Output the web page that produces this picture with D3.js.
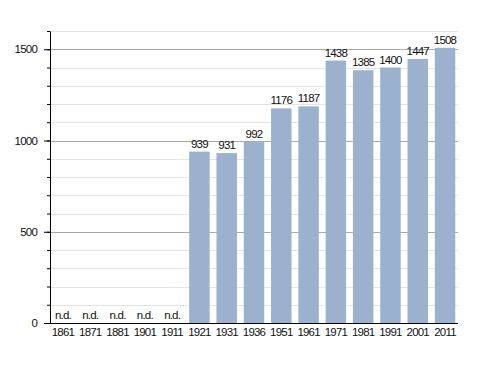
<!DOCTYPE html>
<html>
<head>
<meta charset="utf-8">
<script src="https://cdn.jsdelivr.net/npm/d3@7"></script>
<style>
  body { margin: 0; background: #fff; }
  text { font-family: "Liberation Sans", Arial, sans-serif; letter-spacing: -0.8px; }
</style>
</head>
<body>
<svg id="chart" width="488" height="373"></svg>
<script>
// Data
const years = ['1861', '1871', '1881', '1901', '1911', '1921', '1931', '1936', '1951', '1961', '1971', '1981', '1991', '2001', '2011'];
const population = [null, null, null, null, null, 939, 931, 992, 1176, 1187, 1438, 1385, 1400, 1447, 1508];
const majorTicks = [0, 500, 1000, 1500];

const width = 488, height = 373;
const margins = { top: 31, right: 30, bottom: 50, left: 50 };

const translate = (x, y) => `translate(${x}, ${y})`;

const svg = d3.select('#chart');

const x = d3.scaleBand()
    .domain(years)
    .range([margins.left, width - margins.right])
    .paddingInner(0.25)
    .paddingOuter(0.1);

const y = d3.scaleLinear()
    .domain([0, 1600])
    .range([height - margins.bottom, margins.top]);

// Minor grid every 100
svg.append('g')
    .selectAll('line')
    .data(d3.range(100, 1601, 100).filter(v => v % 500 !== 0))
    .join('line')
    .attr('x1', margins.left)
    .attr('x2', width - margins.right)
    .attr('y1', d => Math.round(y(d)) + 0.5)
    .attr('y2', d => Math.round(y(d)) + 0.5)
    .attr('stroke', '#e4e4e4');

// Major grid
svg.append('g')
    .selectAll('line')
    .data(majorTicks.slice(1))
    .join('line')
    .attr('x1', margins.left)
    .attr('x2', width - margins.right)
    .attr('y1', d => Math.round(y(d)) + 0.5)
    .attr('y2', d => Math.round(y(d)) + 0.5)
    .attr('stroke', '#aaaaaa');

// Bars
const data = years.map((yr, i) => ({ year: yr, value: population[i] }));

svg.append('g')
    .selectAll('rect')
    .data(data.filter(d => d.value !== null))
    .join('rect')
    .attr('x', d => x(d.year))
    .attr('y', d => y(d.value))
    .attr('width', x.bandwidth())
    .attr('height', d => y(0) - y(d.value))
    .attr('fill', '#9bb1cd');

// Value labels
svg.append('g')
    .selectAll('text')
    .data(data)
    .join('text')
    .attr('x', d => x(d.year) + x.bandwidth() / 2)
    .attr('y', d => d.value === null ? y(0) - 4 : y(d.value) - 4)
    .attr('text-anchor', 'middle')
    .attr('font-size', 11.5)
    .attr('fill', '#111')
    .text(d => d.value === null ? 'n.d.' : d.value);

// Y axis with minor ticks
const yMinor = d3.axisLeft(y)
    .tickValues(d3.range(0, 1601, 100))
    .tickSize(3)
    .tickFormat('');
svg.append('g')
    .attr('transform', translate(margins.left, 0))
    .call(yMinor)
    .call(g => g.select('.domain').remove())
    .call(g => g.selectAll('line').attr('stroke', '#000'));

const yAxis = d3.axisLeft(y)
    .tickValues(majorTicks)
    .tickFormat(d3.format('d'))
    .tickSize(6)
    .tickSizeOuter(0)
    .tickPadding(7);
svg.append('g')
    .attr('transform', translate(margins.left, 0))
    .call(yAxis)
    .call(g => g.selectAll('text').attr('font-size', 11.5).attr('fill', '#111'))
    .call(g => g.selectAll('line').attr('stroke', '#000'));

// X axis
const xAxis = d3.axisBottom(x).tickSize(0).tickPadding(5);
svg.append('g')
    .attr('transform', translate(0, y(0)))
    .call(xAxis)
    .call(g => g.select('.domain').attr('d', `M${margins.left - 6},0.5H${width - margins.right}`).attr('stroke', '#000'))
    .call(g => g.selectAll('text').attr('font-size', 11.5).attr('fill', '#111'));
</script>
</body>
</html>
